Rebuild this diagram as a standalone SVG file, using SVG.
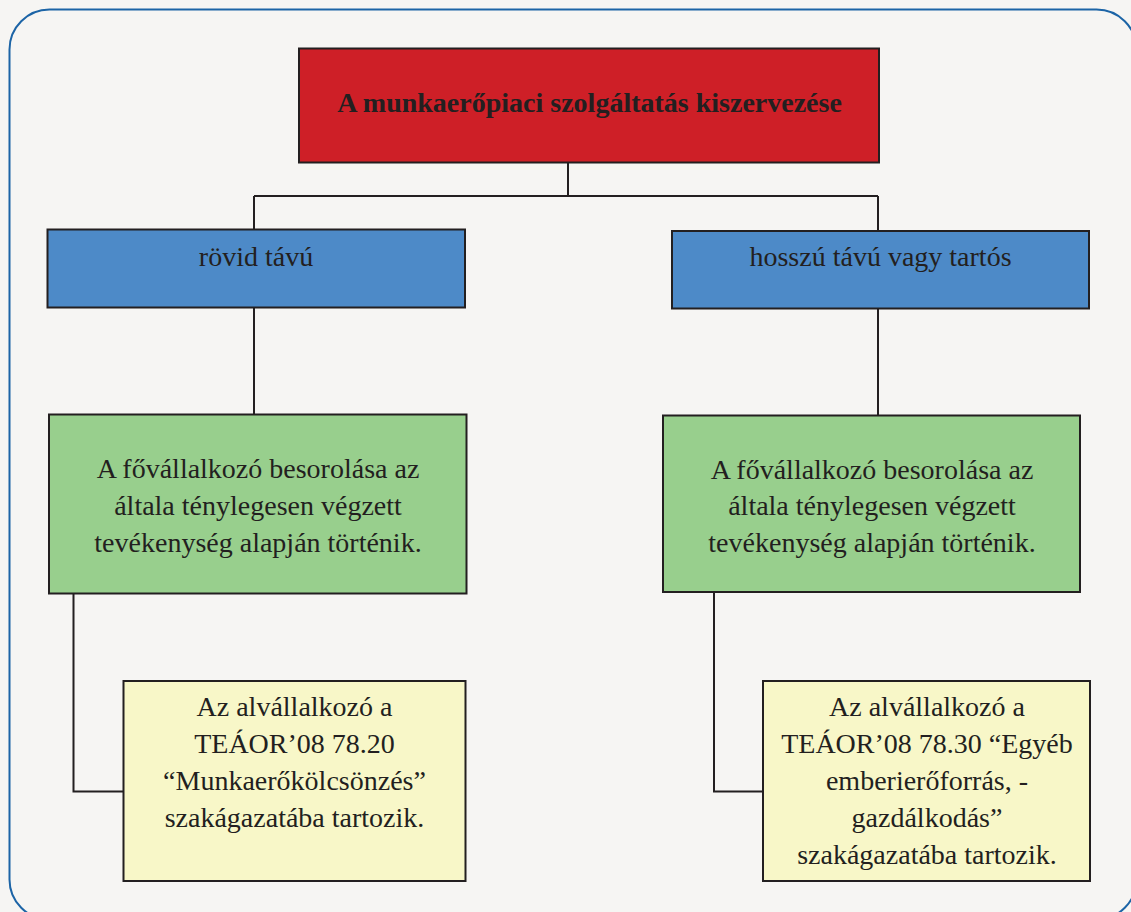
<svg xmlns="http://www.w3.org/2000/svg" width="1131" height="912" viewBox="0 0 1131 912">
<style>
.box{stroke:#231f20;stroke-width:2}
.c{fill:none;stroke:#231f20;stroke-width:2}
</style>
<rect x="0" y="0" width="1131" height="912" fill="#f6f5f3"/>
<rect x="9.5" y="9.5" width="1127" height="910" rx="40" fill="#f6f5f3" stroke="#1c64a6" stroke-width="2"/>
<g id="connectors">
<path class="c" d="M568 162V196M254 196H878M254 196V229M878 196V231"/>
<path class="c" d="M254 308V415M878 309V415"/>
<path class="c" d="M73.5 593V791.5H123M714 592V791.5H763"/>
</g>
<g id="root">
<rect class="box" x="299" y="48.5" width="580" height="114" fill="#ce1f27"/>
<text style="font-family:'Liberation Serif',serif;font-size:28px;font-weight:bold;fill:#231f20;text-anchor:middle" x="589.5" y="112">A munkaerőpiaci szolgáltatás kiszervezése</text>
</g>
<g id="short">
<rect class="box" x="47.5" y="229.5" width="417.5" height="78" fill="#4d8ac8"/>
<text style="font-family:'Liberation Serif',serif;font-size:28px;fill:#231f20;text-anchor:middle" x="256" y="265.5">rövid távú</text>
</g>
<g id="long">
<rect class="box" x="672" y="231" width="417" height="77.5" fill="#4d8ac8"/>
<text style="font-family:'Liberation Serif',serif;font-size:28px;fill:#231f20;text-anchor:middle" x="880.5" y="266">hosszú távú vagy tartós</text>
</g>
<g id="main-left">
<rect class="box" x="49" y="414.5" width="417.5" height="179" fill="#98cf8d"/>
<text style="font-family:'Liberation Serif',serif;font-size:28px;fill:#231f20;text-anchor:middle" x="258" y="477.5">A fővállalkozó besorolása az</text>
<text style="font-family:'Liberation Serif',serif;font-size:28px;fill:#231f20;text-anchor:middle" x="258" y="514.5">általa ténylegesen végzett</text>
<text style="font-family:'Liberation Serif',serif;font-size:28px;fill:#231f20;text-anchor:middle" x="258" y="551.5">tevékenység alapján történik.</text>
</g>
<g id="main-right">
<rect class="box" x="663" y="415.5" width="417" height="176.5" fill="#98cf8d"/>
<text style="font-family:'Liberation Serif',serif;font-size:28px;fill:#231f20;text-anchor:middle" x="872" y="479">A fővállalkozó besorolása az</text>
<text style="font-family:'Liberation Serif',serif;font-size:28px;fill:#231f20;text-anchor:middle" x="872" y="515">általa ténylegesen végzett</text>
<text style="font-family:'Liberation Serif',serif;font-size:28px;fill:#231f20;text-anchor:middle" x="872" y="552">tevékenység alapján történik.</text>
</g>
<g id="sub-left">
<rect class="box" x="123.5" y="681" width="342" height="200" fill="#f8f7c8"/>
<text style="font-family:'Liberation Serif',serif;font-size:28px;fill:#231f20;text-anchor:middle" x="294.5" y="716">Az alvállalkozó a</text>
<text style="font-family:'Liberation Serif',serif;font-size:28px;fill:#231f20;text-anchor:middle" x="294.5" y="752.5">TEÁOR’08 78.20</text>
<text style="font-family:'Liberation Serif',serif;font-size:28px;fill:#231f20;text-anchor:middle" x="294.5" y="789.5">“Munkaerőkölcsönzés”</text>
<text style="font-family:'Liberation Serif',serif;font-size:28px;fill:#231f20;text-anchor:middle" x="294.5" y="827">szakágazatába tartozik.</text>
</g>
<g id="sub-right">
<rect class="box" x="763" y="681" width="327" height="200" fill="#f8f7c8"/>
<text style="font-family:'Liberation Serif',serif;font-size:28px;fill:#231f20;text-anchor:middle" x="927" y="716">Az alvállalkozó a</text>
<text style="font-family:'Liberation Serif',serif;font-size:28px;fill:#231f20;text-anchor:middle" x="927" y="752.5">TEÁOR’08 78.30 “Egyéb</text>
<text style="font-family:'Liberation Serif',serif;font-size:28px;fill:#231f20;text-anchor:middle" x="927" y="789.5">emberierőforrás, -</text>
<text style="font-family:'Liberation Serif',serif;font-size:28px;fill:#231f20;text-anchor:middle" x="927" y="827">gazdálkodás”</text>
<text style="font-family:'Liberation Serif',serif;font-size:28px;fill:#231f20;text-anchor:middle" x="927" y="863.5">szakágazatába tartozik.</text>
</g>
</svg>
